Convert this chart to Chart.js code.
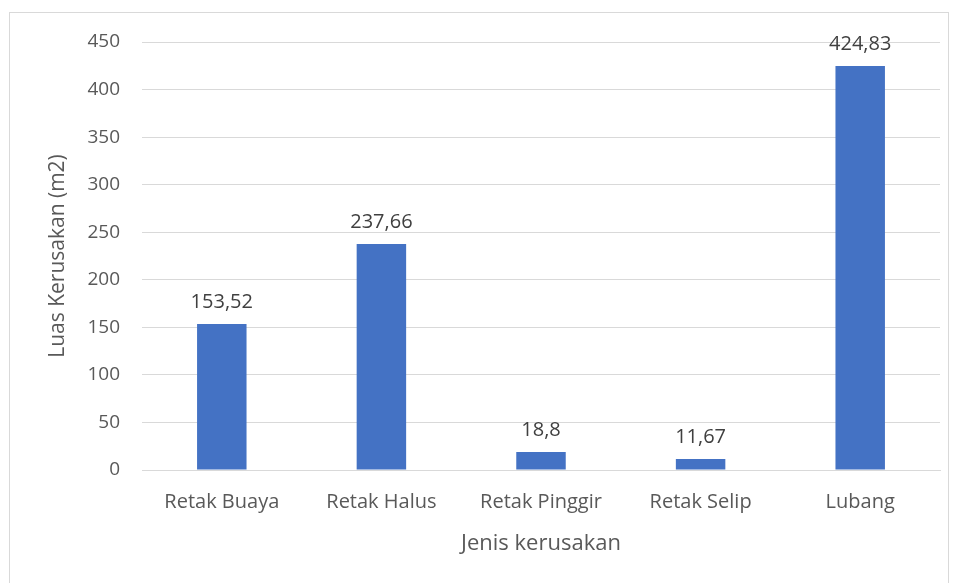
<!DOCTYPE html>
<html>
<head>
<meta charset="utf-8">
<script src="https://cdn.jsdelivr.net/npm/chart.js@4"></script>
<style>
  html, body { margin: 0; padding: 0; background: #fff; }
  #wrap { position: relative; width: 957px; height: 583px; }
  #frame {
    position: absolute; left: 9px; top: 12px; width: 938px; height: 572px;
    border: 1px solid #d9d9d9; pointer-events: none;
  }
</style>
</head>
<body>
<div id="wrap">
  <canvas id="chart" width="957" height="583"></canvas>
  <div id="frame"></div>
</div>
<script>
// chart data
const categories = ['Retak Buaya', 'Retak Halus', 'Retak Pinggir', 'Retak Selip', 'Lubang'];
const luas = [153.52, 237.66, 18.8, 11.67, 424.83];
const yTicks = [0, 50, 100, 150, 200, 250, 300, 350, 400, 450];

const FONT = '"Open Sans", sans-serif';
const TEXT = '#595959';

// labels above each bar, decimal comma like the source
const barLabels = {
    id: 'barLabels',
    afterDatasetsDraw(chart) {
        const { ctx } = chart;
        const meta = chart.getDatasetMeta(0);
        ctx.save();
        ctx.font = '20px ' + FONT;
        ctx.fillStyle = '#404040';
        ctx.textAlign = 'center';
        ctx.textBaseline = 'alphabetic';
        meta.data.forEach((bar, i) => {
            ctx.fillText(String(luas[i]).replace('.', ','), bar.x, bar.y - 16);
        });
        ctx.restore();
    }
};

new Chart(document.getElementById('chart'), {
    type: 'bar',
    data: {
        labels: categories,
        datasets: [{
            data: luas,
            backgroundColor: '#4472C4',
            barPercentage: 0.62,
            categoryPercentage: 0.5
        }]
    },
    options: {
        responsive: false,
        animation: false,
        layout: { padding: { left: 41, right: 17, top: 42, bottom: 22 } },
        plugins: { legend: { display: false }, tooltip: { enabled: false } },
        scales: {
            x: {
                grid: { display: false, drawTicks: false },
                border: { display: true, color: '#d9d9d9', width: 1 },
                ticks: { color: TEXT, font: { family: FONT, size: 20 }, padding: 20 },
                title: {
                    display: true, text: 'Jenis kerusakan', color: TEXT,
                    font: { family: FONT, size: 22 }, padding: { top: 4, bottom: 4 }
                },
                afterFit: s => { s.height = 91; }
            },
            y: {
                min: 0,
                max: 450,
                afterBuildTicks: s => { s.ticks = yTicks.map(v => ({ value: v })); },
                grid: { color: '#d9d9d9', drawTicks: false },
                border: { display: false },
                ticks: { color: TEXT, font: { family: FONT, size: 19 }, padding: 22 },
                title: {
                    display: true, text: 'Luas Kerusakan (m2)', color: TEXT,
                    font: { family: FONT, size: 21 }, padding: { top: 4, bottom: 4 }
                },
                afterFit: s => { s.width = 101; }
            }
        }
    },
    plugins: [barLabels]
});
</script>
</body>
</html>
